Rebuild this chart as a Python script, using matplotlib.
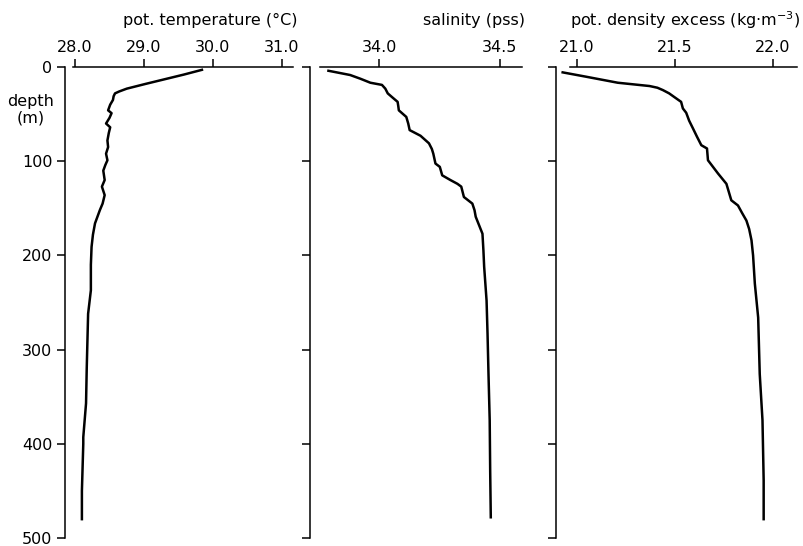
import numpy as np
import matplotlib
matplotlib.use("Agg")
import matplotlib.pyplot as plt

plt.rcParams['font.family'] = ['DejaVu Sans']
plt.rcParams['mathtext.default'] = 'regular'

# potential temperature profile (depth in m, deg C)
temp_depth = [3, 8, 13, 18, 23, 26, 28, 31, 35, 40, 46, 49, 54, 60, 64, 70, 78, 85, 92,
              99, 104, 110, 120, 127, 136, 145, 152, 166, 178, 191, 210, 237, 262, 320,
              357, 393, 400, 450, 480]
temp = [29.84, 29.58, 29.30, 29.02, 28.75, 28.64, 28.58, 28.56, 28.55, 28.51, 28.48, 28.53,
        28.50, 28.45, 28.51, 28.49, 28.47, 28.48, 28.45, 28.47, 28.44, 28.41, 28.43, 28.39,
        28.43, 28.40, 28.36, 28.29, 28.26, 28.24, 28.23, 28.23, 28.19, 28.17, 28.16, 28.12,
        28.12, 28.10, 28.10]

# salinity profile (pss)
sal_depth = [4, 8.5, 12.5, 16.7, 19, 23, 28, 32, 37, 42, 46, 53, 60, 67, 73, 81, 87, 92,
             102.5, 106, 115, 120, 124, 127, 138, 145, 152, 159, 168, 177, 195, 212, 248,
             283, 326, 375, 429, 478]
sal = [33.789, 33.879, 33.922, 33.963, 34.011, 34.025, 34.035, 34.053, 34.076, 34.079,
       34.081, 34.112, 34.120, 34.126, 34.171, 34.206, 34.218, 34.224, 34.233, 34.251,
       34.261, 34.295, 34.324, 34.340, 34.351, 34.386, 34.395, 34.400, 34.414, 34.428,
       34.432, 34.435, 34.445, 34.449, 34.453, 34.458, 34.460, 34.4625]

# potential density excess profile (kg m-3)
dens_depth = [5.7, 10.3, 16.7, 20.2, 22, 24.5, 28, 32, 37, 44, 48.6, 57, 65, 74, 83, 86.5,
              99, 113, 124, 141.5, 147, 155, 163, 172, 184, 200, 230, 266, 326, 375, 439,
              480]
dens = [20.927, 21.046, 21.208, 21.370, 21.410, 21.438, 21.470, 21.497, 21.531, 21.540,
        21.557, 21.572, 21.591, 21.612, 21.634, 21.663, 21.668, 21.719, 21.762, 21.787,
        21.821, 21.842, 21.864, 21.878, 21.890, 21.898, 21.907, 21.924, 21.932, 21.946,
        21.952, 21.952]

depth_ticks = [0, 100, 200, 300, 400, 500]
temp_ticks = [28.0, 29.0, 30.0, 31.0]
sal_ticks = [34.0, 34.5]
dens_ticks = [21.0, 21.5, 22.0]

W, H = 804, 546
fig = plt.figure(figsize=(W / 100, H / 100), dpi=100)


def make_axes(x0, x1, xlim, top_bounds):
    ax = fig.add_axes([x0 / W, 1 - 538 / H, (x1 - x0) / W, (538 - 67) / H])
    ax.set_xlim(*xlim)
    ax.set_ylim(500, 0)
    for s in ('right', 'bottom'):
        ax.spines[s].set_visible(False)
    ax.spines['left'].set_bounds(0, 500)
    ax.spines['top'].set_bounds(*top_bounds)
    for s in ('left', 'top'):
        ax.spines[s].set_linewidth(1.1)
    ax.xaxis.tick_top()
    ax.tick_params(direction='out', length=6, width=1.1, labelsize=11.5, pad=3)
    ax.set_yticks(depth_ticks)
    return ax


ax1 = make_axes(65, 293, (27.855, 31.16), (27.97, 31.16))
ax1.plot(temp, temp_depth, color='black', lw=1.8, solid_joinstyle='round')
ax1.set_xticks(temp_ticks)
ax1.set_xticklabels(['%.1f' % v for v in temp_ticks])

ax2 = make_axes(310, 522, (33.7125, 34.592), (33.754, 34.592))
ax2.plot(sal, sal_depth, color='black', lw=1.8, solid_joinstyle='round')
ax2.set_xticks(sal_ticks)
ax2.set_xticklabels(['%.1f' % v for v in sal_ticks])
ax2.set_yticklabels([])

ax3 = make_axes(556, 797, (20.893, 22.122), (20.964, 22.122))
ax3.plot(dens, dens_depth, color='black', lw=1.8, solid_joinstyle='round')
ax3.set_xticks(dens_ticks)
ax3.set_xticklabels(['%.1f' % v for v in dens_ticks])
ax3.set_yticklabels([])

fig.text(298 / W, 1 - 20 / H, 'pot. temperature (°C)', ha='right', va='center', fontsize=11.5)
fig.text(525 / W, 1 - 20 / H, 'salinity (pss)', ha='right', va='center', fontsize=11.5)
fig.text(800 / W, 1 - 20 / H, 'pot. density excess (kg·m$^{-3}$)', ha='right', va='center',
         fontsize=11.5)
fig.text(31 / W, 1 - 110 / H, 'depth\n(m)', ha='center', va='center', fontsize=11.5,
         linespacing=1.15)

fig.savefig('out.png', dpi=100)
